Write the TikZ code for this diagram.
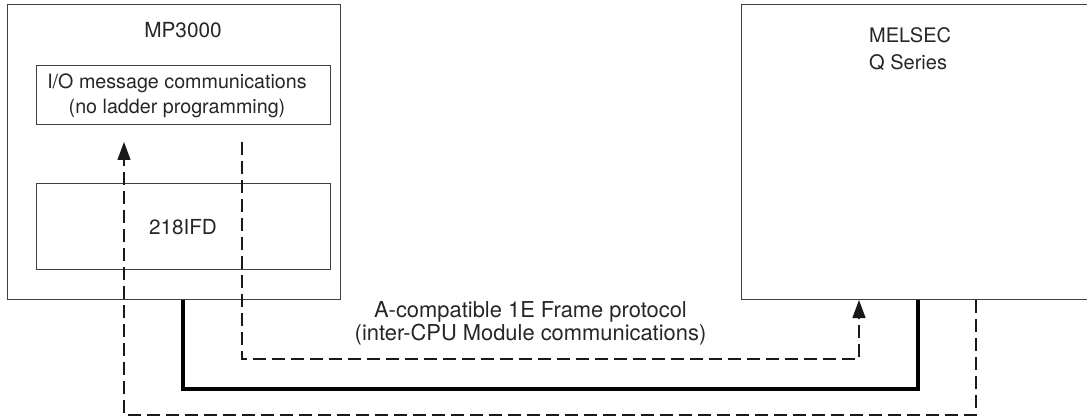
\documentclass[tikz,border=0pt]{standalone}
\usepackage{fontspec}
\setmainfont{TeX Gyre Heros}
\usetikzlibrary{arrows.meta}
\begin{document}
\begin{tikzpicture}[x=1pt,y=-1pt,
  box/.style={draw=black!75, line width=1pt, inner sep=0pt, anchor=north west},
  lbl/.style={text=black!85, align=center, inner sep=0pt, anchor=base},
  dsh/.style={draw=black!90, line width=1.3pt, dash pattern=on 13pt off 6pt},
  tip/.style={-{Triangle[length=18pt,width=13pt]}},
  thick line/.style={draw=black, line width=4pt}
]
\useasboundingbox (0,0) rectangle (1087,417);
% boxes
\node[box, minimum width=333pt, minimum height=295pt] (mp) at (7,4) {};
\node[box, minimum width=294pt, minimum height=59pt] (io) at (36,65) {};
\node[box, minimum width=294pt, minimum height=86pt] (ifd) at (36,183) {};
\node[box, minimum width=346pt, minimum height=295pt] (mel) at (741,4) {};
% labels
\node[lbl, font=\fontsize{20.8}{26}\selectfont] (mpl) at (183,37.7) {MP3000};
\node[lbl, font=\fontsize{19.7}{25}\selectfont] (iol) at (177,113.3) {I/O message communications\\(no ladder programming)};
\node[lbl, font=\fontsize{20.7}{26}\selectfont] (ifdl) at (183,234.5) {218IFD};
\node[lbl, font=\fontsize{20}{26.7}\selectfont, align=left, anchor=base west] (mell) at (869,69.3) {MELSEC\\Q Series};
\node[lbl, font=\fontsize{21.9}{22.7}\selectfont] (prot) at (530.5,340) {A-compatible 1E Frame protocol\\(inter-CPU Module communications)};
% free ends
\coordinate (ioin) at (124,142);
\coordinate (ioout) at (242,142);
% connectors
\draw[thick line] ([xshift=176pt]mp.south west) -- ++(0,89) -| ([xshift=177pt]mel.south west);
\draw[dsh, tip] (ioout) -- ++(0,217) -| ([xshift=118pt]mel.south west);
\draw[dsh, tip] ([xshift=235pt]mel.south west) -- ++(0,115) -| (ioin);
\end{tikzpicture}
\end{document}
